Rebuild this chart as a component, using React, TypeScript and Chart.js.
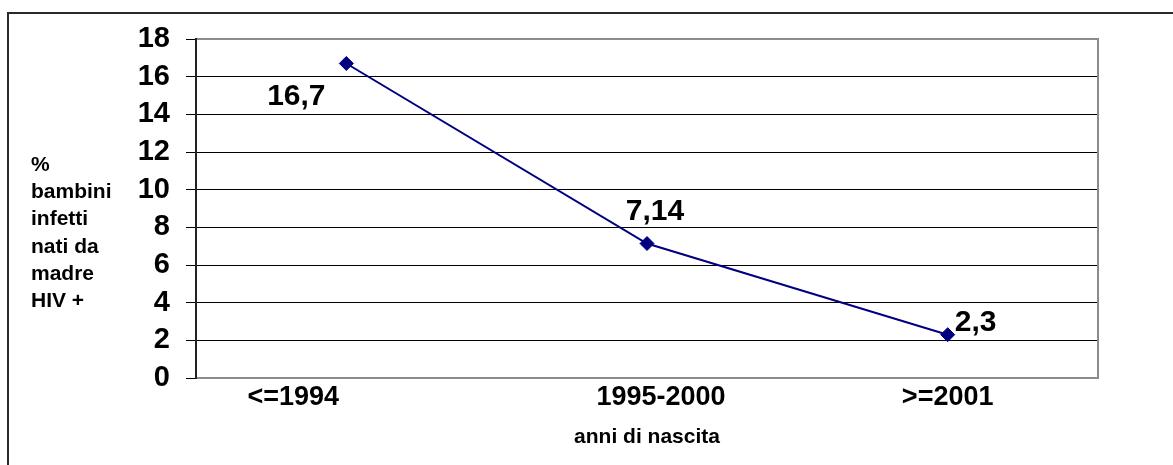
import React, { useEffect, useRef } from "react";
import { Chart, registerables } from "chart.js";

Chart.register(...registerables);

const categories = ["<=1994", "1995-2000", ">=2001"];
const values = [16.7, 7.14, 2.3];
const yTitleLines = ["%", "bambini", "infetti", "nati da", "madre", "HIV +"];
const xTitle = "anni di nascita";

const FONT = "'Liberation Sans', Arial, sans-serif";

export default function App() {
  const ref = useRef<HTMLCanvasElement | null>(null);

  useEffect(() => {
    const canvas = ref.current;
    if (!canvas) return;

    const labelOffsets = [
      [-50, 33],
      [8, -32],
      [28, -12],
    ];
    const catLabelShift = [-53, 14, 0];

    const decor = {
      id: "decor",
      beforeDraw(chart: any) {
        const ctx = chart.ctx;
        ctx.save();
        ctx.fillStyle = "#fff";
        ctx.fillRect(0, 0, chart.width, chart.height);
        ctx.strokeStyle = "#2a2a2a";
        ctx.lineWidth = 2;
        ctx.beginPath();
        ctx.moveTo(8, chart.height + 2);
        ctx.lineTo(8, 13);
        ctx.lineTo(chart.width + 2, 13);
        ctx.stroke();
        ctx.restore();
      },
      beforeDatasetsDraw(chart: any) {
        const ctx = chart.ctx;
        const a = chart.chartArea;
        ctx.save();
        ctx.strokeStyle = "#8c8c8c";
        ctx.lineWidth = 2;
        ctx.beginPath();
        ctx.moveTo(a.left, a.top);
        ctx.lineTo(a.right, a.top);
        ctx.lineTo(a.right, a.bottom);
        ctx.lineTo(a.left, a.bottom);
        ctx.stroke();
        ctx.strokeStyle = "#222";
        ctx.lineWidth = 2;
        ctx.beginPath();
        ctx.moveTo(a.left, a.top - 1);
        ctx.lineTo(a.left, a.bottom + 1);
        ctx.stroke();
        ctx.restore();
      },
      afterDraw(chart: any) {
        const ctx = chart.ctx;
        const a = chart.chartArea;
        ctx.save();
        ctx.fillStyle = "#000";
        ctx.font = `bold 21px ${FONT}`;
        ctx.textAlign = "left";
        ctx.textBaseline = "alphabetic";
        yTitleLines.forEach((t, i) => {
          ctx.fillText(t, 31, 171 + i * 27.2);
        });

        const xs = chart.scales.x;
        ctx.font = `bold 27px ${FONT}`;
        ctx.textAlign = "center";
        ctx.textBaseline = "middle";
        categories.forEach((c, i) => {
          ctx.fillText(c, xs.getPixelForValue(i) + catLabelShift[i], a.bottom + 20);
        });

        const meta = chart.getDatasetMeta(0);
        ctx.font = `bold 30px ${FONT}`;
        meta.data.forEach((pt: any, i: number) => {
          const txt = String(values[i]).replace(".", ",");
          const off = labelOffsets[i];
          ctx.fillText(txt, pt.x + off[0], pt.y + off[1]);
        });
        ctx.restore();
      },
    };

    const chart = new Chart(canvas, {
      type: "line",
      data: {
        labels: categories,
        datasets: [
          {
            data: values,
            borderColor: "#000080",
            backgroundColor: "#000080",
            borderWidth: 2,
            pointStyle: "rectRot",
            pointRadius: 7,
            pointBorderWidth: 1,
            pointBackgroundColor: "#000080",
            pointBorderColor: "#000080",
            tension: 0,
            fill: false,
          },
        ],
      },
      options: {
        responsive: false,
        animation: false,
        layout: { padding: { left: 0, top: 39, right: 75, bottom: 0 } },
        plugins: {
          legend: { display: false },
          tooltip: { enabled: false },
          title: { display: false },
        },
        scales: {
          x: {
            type: "category",
            offset: true,
            grid: { display: false, drawTicks: false },
            border: { display: false },
            ticks: { display: false },
            title: {
              display: true,
              text: xTitle,
              color: "#000",
              font: { family: FONT, size: 21, weight: "bold" },
              padding: { top: 0, bottom: 15 },
            },
            afterFit(scale: any) {
              scale.height = 87;
            },
          },
          y: {
            min: 0,
            max: 18,
            grid: {
              color: "#000",
              lineWidth: 1,
              tickLength: 10,
              tickColor: "#000",
            },
            border: { display: false },
            ticks: {
              stepSize: 2,
              autoSkip: false,
              color: "#000",
              font: { family: FONT, size: 29, weight: "bold" },
              padding: 16,
            },
            afterFit(scale: any) {
              scale.width = 196;
            },
          },
        },
      },
      plugins: [decor],
    } as any);

    return () => chart.destroy();
  }, []);

  return (
    <div style={{ position: "absolute", left: 0, top: 0, width: 1173, height: 465 }}>
      <canvas ref={ref} width={1173} height={465} style={{ display: "block" }} />
    </div>
  );
}
